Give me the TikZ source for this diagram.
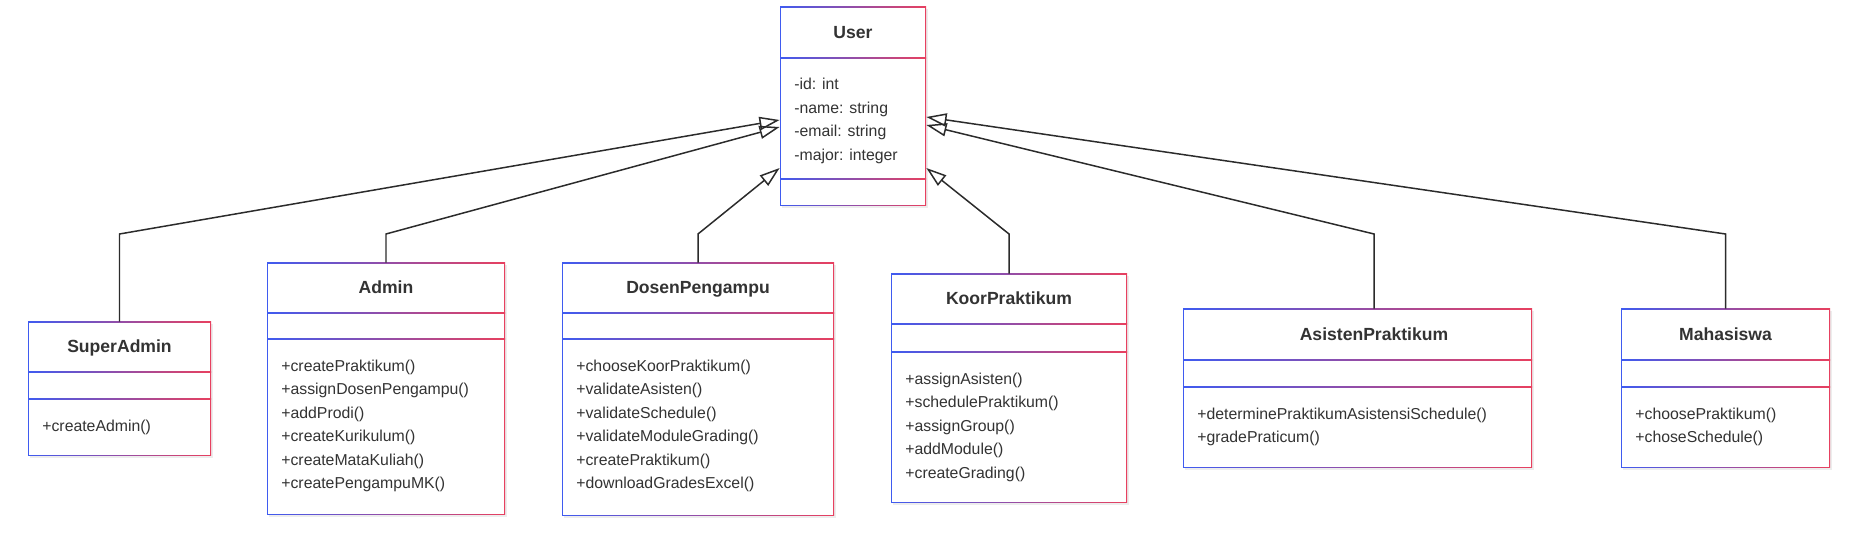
\documentclass[tikz,border=0pt]{standalone}
\usepackage{fontspec}
\setmainfont{Liberation Sans}
\usetikzlibrary{arrows.meta,fit}

\definecolor{umlblue}{HTML}{3F5BF0}
\definecolor{umlred}{HTML}{E8405F}
\definecolor{textgray}{HTML}{333333}
\definecolor{linegray}{HTML}{2B2B2B}

\tikzset{
  inherit/.style={draw=linegray, line width=0.85pt,
    -{Triangle[open, length=11.5pt, width=7.5pt]}},
  classtitle/.style={font=\bfseries, text=textgray, inner sep=0pt, anchor=base},
  member/.style={text=textgray, inner sep=0pt, anchor=base west},
}

% class frame: name, left, top, right, bottom, first and second divider
\newcommand{\classframe}[7]{%
  \fill[black!7] (#2+1.5,#3+2.5) rectangle (#4+1.5,#5+2.5);
  \shade[left color=umlblue, right color=umlred] (#2,#3) rectangle (#4,#5);
  \fill[white] (#2+1.4,#3+1.4) rectangle (#4-1.4,#5-1.4);
  \shade[left color=umlblue, right color=umlred] (#2,#6-0.7) rectangle (#4,#6+0.7);
  \shade[left color=umlblue, right color=umlred] (#2,#7-0.7) rectangle (#4,#7+0.7);
  \node[fit={(#2,#3) (#4,#5)}, inner sep=0pt] (#1) {};
}

\begin{document}
\begin{tikzpicture}[x=0.02cm, y=-0.02cm, font=\fontsize{9}{11}\selectfont]
  \useasboundingbox (0,0) rectangle (1854,536);

  % class boxes
  \classframe{user}{780}{7}{926}{206}{58}{179}
  \classframe{superadmin}{28}{322}{211}{456}{372}{399}
  \classframe{admin}{267}{263}{505}{515}{313}{339}
  \classframe{dosen}{562}{263}{834}{516}{313}{339}
  \classframe{koor}{891}{274}{1127}{503}{324}{352}
  \classframe{asisten}{1183}{309}{1532}{468}{360}{387}
  \classframe{mahasiswa}{1621}{309}{1830}{468}{360}{387}

  % User
  \node[classtitle] (user-title) at (853,38.2) {User};
  \foreach \a [count=\i] in {-id: int, -name: string, -email: string, -major: integer}
    \node[member] (user-a\i) at (794,{90+(\i-1)*23.4}) {\a};

  % SuperAdmin
  \node[classtitle] (superadmin-title) at (119.5,352.7) {SuperAdmin};
  \node[member] (superadmin-m1) at (42,431.5) {+createAdmin()};

  % Admin
  \node[classtitle] (admin-title) at (386,293.7) {Admin};
  \foreach \m [count=\i] in {+createPraktikum(), +assignDosenPengampu(), +addProdi(),
      +createKurikulum(), +createMataKuliah(), +createPengampuMK()}
    \node[member] (admin-m\i) at (281,{371.5+(\i-1)*23.4}) {\m};

  % DosenPengampu
  \node[classtitle] (dosen-title) at (698,293.7) {DosenPengampu};
  \foreach \m [count=\i] in {+chooseKoorPraktikum(), +validateAsisten(), +validateSchedule(),
      +validateModuleGrading(), +createPraktikum(), +downloadGradesExcel()}
    \node[member] (dosen-m\i) at (576,{371.5+(\i-1)*23.4}) {\m};

  % KoorPraktikum
  \node[classtitle] (koor-title) at (1009,304.7) {KoorPraktikum};
  \foreach \m [count=\i] in {+assignAsisten(), +schedulePraktikum(), +assignGroup(),
      +addModule(), +createGrading()}
    \node[member] (koor-m\i) at (905,{384.5+(\i-1)*23.4}) {\m};

  % AsistenPraktikum
  \node[classtitle] (asisten-title) at (1374,340.2) {AsistenPraktikum};
  \foreach \m [count=\i] in {+determinePraktikumAsistensiSchedule(), +gradePraticum()}
    \node[member] (asisten-m\i) at (1197,{419.5+(\i-1)*23.4}) {\m};

  % Mahasiswa
  \node[classtitle] (mahasiswa-title) at (1725.5,340.2) {Mahasiswa};
  \foreach \m [count=\i] in {+choosePraktikum(), +choseSchedule()}
    \node[member] (mahasiswa-m\i) at (1635,{419.5+(\i-1)*23.4}) {\m};

  % generalisation arrows
  \draw[inherit] (superadmin.north) -- (superadmin.north |- 0,234) -- (user.west |- 0,120);
  \draw[inherit] (admin.north) -- (admin.north |- 0,234) -- (user.west |- 0,127);
  \draw[inherit] (dosen.north) -- (dosen.north |- 0,234) -- (user.west |- 0,168);
  \draw[inherit] (koor.north) -- (koor.north |- 0,234) -- (user.east |- 0,168);
  \draw[inherit] (asisten-title |- asisten.north) -- (asisten-title |- 0,234) -- (user.east |- 0,125);
  \draw[inherit] (mahasiswa.north) -- (mahasiswa.north |- 0,234) -- (user.east |- 0,117);
\end{tikzpicture}
\end{document}
